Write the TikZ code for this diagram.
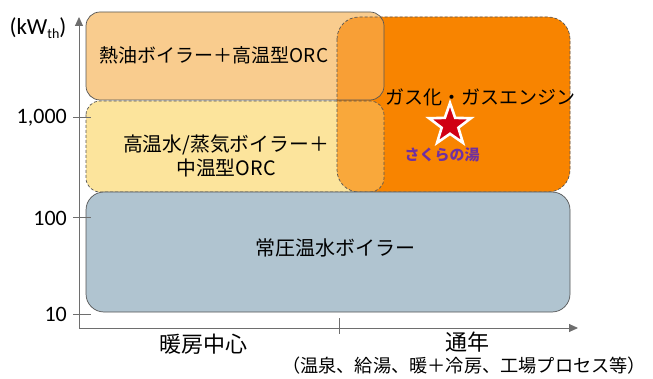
\documentclass[tikz,border=0pt]{standalone}
\usepackage{fontspec}
\setmainfont{Carlito}
\newfontfamily\jp{Noto Sans CJK JP}
\usetikzlibrary{shapes.geometric,arrows.meta}
\definecolor{oilc}{RGB}{249,204,142}
\definecolor{hotc}{RGB}{252,228,156}
\definecolor{gasc}{RGB}{248,132,0}
\definecolor{atmc}{RGB}{176,196,208}
\definecolor{edgec}{RGB}{85,85,85}
\definecolor{axisc}{RGB}{110,110,110}
\definecolor{starc}{RGB}{208,0,20}
\definecolor{sakc}{RGB}{112,48,160}
\begin{document}
\begin{tikzpicture}[x=1pt,y=-1pt,
  region/.style={rectangle, inner sep=0pt, outer sep=0pt},
  solidedge/.style={draw=edgec, line width=0.7pt},
  dashedge/.style={draw=edgec, line width=0.7pt, dash pattern=on 3pt off 2pt},
  jptext/.style={font=\jp\fontsize{19}{23}\selectfont, align=center, inner sep=0pt},
  ticklab/.style={font=\fontsize{22}{24}\selectfont, anchor=east, inner sep=0pt},
  axisline/.style={draw=axisc, line width=0.9pt},
  tickline/.style={draw=axisc, line width=0.9pt}
]
\useasboundingbox (0,0) rectangle (653,379);
% region fills
\node[region, fill=gasc, rounded corners=22pt, minimum width=233pt, minimum height=175pt] (gas) at (453.5,104.5) {};
\node[region, fill=oilc, rounded corners=14pt, minimum width=298pt, minimum height=88pt] (oil) at (235,56) {};
\node[region, fill=hotc, rounded corners=14pt, minimum width=298pt, minimum height=91pt] (hot) at (235,146.5) {};
\fill[gasc, fill opacity=0.62, rounded corners=22pt] (gas.north west) rectangle (gas.south east);
% region borders
\draw[solidedge, rounded corners=14pt] (oil.north west) rectangle (oil.south east);
\draw[dashedge, rounded corners=14pt] (hot.north west) rectangle (hot.south east);
\draw[dashedge, rounded corners=22pt] (gas.north west) rectangle (gas.south east);
\node[region, fill=atmc, solidedge, rounded corners=18pt, minimum width=484pt, minimum height=120pt] (atm) at (328,252) {};
% texts in regions
\node[jptext] (toil) at (214,55) {熱油ボイラー＋高温型ORC};
\node[jptext, font=\jp\fontsize{19.8}{23.5}\selectfont] (thot) at (226,156) {高温水/蒸気ボイラー＋\\中温型ORC};
\node[jptext] (tgas) at (480,97) {ガス化・ガスエンジン};
\node[star, star points=5, star point ratio=2.5, minimum size=44pt, inner sep=0pt, fill=starc, draw=white, line width=2.6pt] (star) at (450,125) {};
\node[font=\jp\bfseries\fontsize{15}{18}\selectfont, text=sakc, inner sep=0pt] (saku) at (442,155) {さくらの湯};
\node[jptext, font=\jp\fontsize{20}{24}\selectfont] (tatm) at (335,248) {常圧温水ボイラー};
% axes
\coordinate (origin) at (79,328);
\coordinate (ytop) at (79,17);
\coordinate (xend) at (578,328);
\draw[axisline, -{Triangle[length=9pt,width=8pt]}] (origin) -- (ytop);
\draw[axisline, -{Triangle[length=9pt,width=8pt]}] (origin) -- (xend);
% ticks
\coordinate (t1a) at (73,117); \coordinate (t1b) at (91,117);
\coordinate (t2a) at (73,217); \coordinate (t2b) at (91,217);
\coordinate (t3a) at (73,314); \coordinate (t3b) at (91,314);
\coordinate (txa) at (339,318); \coordinate (txb) at (339,334);
\draw[tickline] (t1a) -- (t1b);
\draw[tickline] (t2a) -- (t2b);
\draw[tickline] (t3a) -- (t3b);
\draw[tickline] (txa) -- (txb);
% axis labels
\node[ticklab] (l1000) at (67,118) {1,000};
\node[ticklab] (l100) at (67,218) {100};
\node[ticklab] (l10) at (67,314) {10};
\node[font=\fontsize{23}{25}\selectfont, inner sep=0pt] (unit) at (38,28) {(kW\raisebox{-0.35ex}{\fontsize{14}{14}\selectfont th})};
\node[jptext, font=\jp\fontsize{22}{26}\selectfont] (xl1) at (203,344) {暖房中心};
\node[jptext, font=\jp\fontsize{22}{26}\selectfont] (xl2) at (467,342) {通年};
\node[jptext, font=\jp\fontsize{18.2}{21}\selectfont] (xl3) at (464,365.5) {（温泉、給湯、暖＋冷房、工場プロセス等）};
\end{tikzpicture}
\end{document}
